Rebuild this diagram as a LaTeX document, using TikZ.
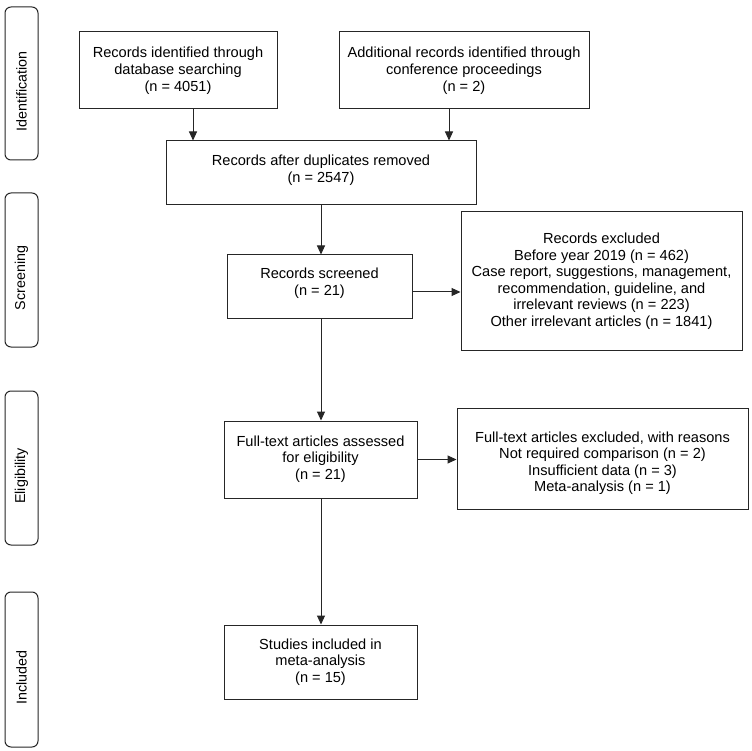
\documentclass[tikz,border=0pt]{standalone}
\usepackage{fontspec}
\setmainfont{Liberation Sans}
\usetikzlibrary{arrows.meta}
\definecolor{ink}{HTML}{262626}
\begin{document}
\begin{tikzpicture}[x=1pt,y=-1pt,
  box/.style={draw=ink, line width=1pt, align=center, inner sep=0pt, font=\fontsize{14.6}{17}\selectfont},
  lowbox/.style={box, font=\fontsize{14.6}{16.5}\selectfont},
  phase/.style={draw=ink, line width=1pt, rounded corners=6pt, inner sep=0pt, rotate=90, font=\fontsize{14.3}{17}\selectfont},
  arr/.style={draw=ink, line width=1pt, -{Triangle[length=9pt,width=8pt]}}]
\useasboundingbox[fill=white] (0,0) rectangle (752,751);

% phase labels
\node[phase, minimum width=153pt, minimum height=33pt] (p1) at (21.5,83.5) {Identification\hspace*{16pt}};
\node[phase, minimum width=154pt, minimum height=33pt] (p2) at (21.5,270) {Screening\hspace*{16pt}};
\node[phase, minimum width=154pt, minimum height=33pt] (p3) at (21.5,468) {Eligibility\hspace*{16pt}};
\node[phase, minimum width=155pt, minimum height=33pt] (p4) at (21.5,669.5) {Included\hspace*{16pt}};

% boxes
\node[box, minimum width=198pt, minimum height=77pt] (b1) at (178,70.5)
  {Records identified through\\database searching\\(n = 4051)};
\node[box, minimum width=250pt, minimum height=77pt] (b2) at (464,70.5)
  {Additional records identified through\\conference proceedings\\(n = 2)};
\node[box, minimum width=310pt, minimum height=64pt] (b3) at (321,173)
  {Records after duplicates removed\\(n = 2547)\\[-8pt]};
\node[lowbox, minimum width=185pt, minimum height=63pt] (s) at (319.5,286.5)
  {Records screened\\(n = 21)\\[-7pt]};
\node[lowbox, minimum width=281pt, minimum height=138pt] (e1) at (601.5,281)
  {Records excluded\\Before year 2019 (n = 462)\\Case report, suggestions, management,\\recommendation, guideline, and\\irrelevant reviews (n = 223)\\Other irrelevant articles (n = 1841)};
\node[lowbox, minimum width=193pt, minimum height=77pt] (f) at (320.5,459.5)
  {Full-text articles assessed\\for eligibility\\(n = 21)\\[-12pt]};
\node[lowbox, minimum width=291pt, minimum height=101pt] (e2) at (602.5,458.5)
  {\rule{0pt}{20pt}Full-text articles excluded, with reasons\\Not required comparison (n = 2)\\Insufficient data (n = 3)\\Meta-analysis (n = 1)};
\node[lowbox, minimum width=193pt, minimum height=74pt] (st) at (320.5,662)
  {Studies included in\\meta-analysis\hspace*{10pt}\\(n = 15)};

% connectors
\draw[arr] (193,0 |- b1.south) -- (193,0 |- b3.north);
\draw[arr] (449,0 |- b2.south) -- (449,0 |- b3.north);
\draw[arr] (b3.south) -- (b3.south |- s.north);
\draw[arr] (s.east |- 0,292) -- (e1.west |- 0,292);
\draw[arr] (321,0 |- s.south) -- (321,0 |- f.north);
\draw[arr] (f.east) -- (f.east -| e2.west);
\draw[arr] (321,0 |- f.south) -- (321,0 |- st.north);
\end{tikzpicture}
\end{document}
